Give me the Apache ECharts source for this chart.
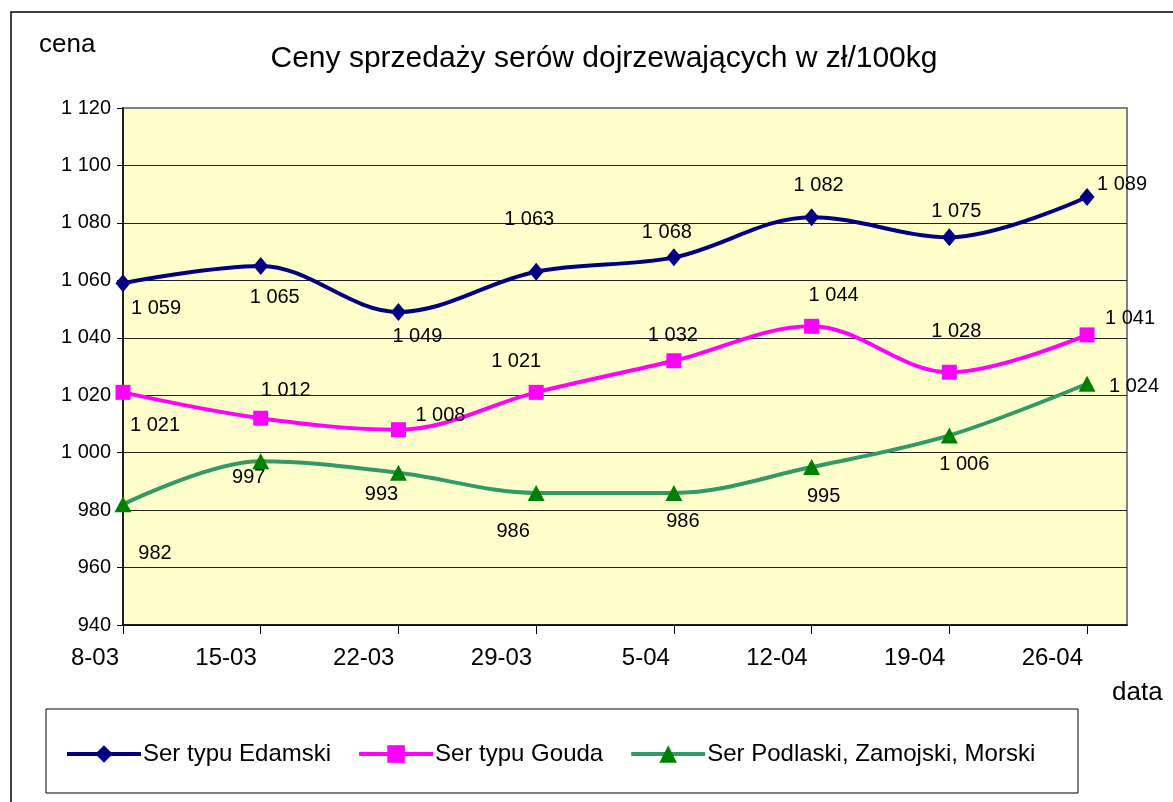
<!DOCTYPE html>
<html>
<head>
<meta charset="utf-8">
<title>Ceny sprzedaży serów dojrzewających</title>
<script src="https://cdn.jsdelivr.net/npm/echarts@6/dist/echarts.min.js"></script>
<style>
  html, body { margin: 0; padding: 0; background: #fff; }
  #chart { width: 1173px; height: 802px; }
</style>
</head>
<body>
<div id="chart"></div>
<script>
const dates = ['8-03', '15-03', '22-03', '29-03', '5-04', '12-04', '19-04', '26-04'];
const edamski = [1059, 1065, 1049, 1063, 1068, 1082, 1075, 1089];
const gouda = [1021, 1012, 1008, 1021, 1032, 1044, 1028, 1041];
const podlaski = [982, 997, 993, 986, 986, 995, 1006, 1024];
const yTicks = { min: 940, max: 1120, step: 20 };

// przesuniДҷcia etykiet danych wzglДҷdem punktu (jak w Excelu)
const edamskiLabelOffsets = [[33, 25], [14, 32], [19, 25], [-7, -52], [-7, -25], [7, -32], [7, -26], [35, -13]];
const goudaLabelOffsets = [[32, 33], [25, -28], [42, -14], [-20, -31], [-1, -25], [22, -31], [7, -41], [43, -16]];
const podlaskiLabelOffsets = [[32, 49], [-12, 16], [-17, 22], [-23, 39], [9, 29], [12, 29], [15, 29], [47, 3]];

const FONT = '"Liberation Sans", Arial, sans-serif';

function fmt(v) {
    return String(v).replace(/\B(?=(\d{3})+(?!\d))/g, ' ');
}

function buildData(values, offsets) {
    return values.map((v, i) => ({
        value: [i, v],
        label: { offset: offsets[i] }
    }));
}

function lineSeries(name, values, offsets, lineColor, markColor, symbol, symbolSize) {
    return {
        name: name,
        type: 'line',
        smooth: 0.35,
        symbol: symbol,
        symbolSize: symbolSize,
        data: buildData(values, offsets),
        lineStyle: { color: lineColor, width: 4 },
        itemStyle: { color: markColor, borderWidth: 0 },
        label: {
            show: true,
            position: 'inside',
            align: 'center',
            verticalAlign: 'middle',
            color: '#000',
            fontFamily: FONT,
            fontSize: 20,
            formatter: p => fmt(p.value[1])
        },
        emphasis: { disabled: true }
    };
}

const chart = echarts.init(document.getElementById('chart'));

const option = {
    animation: false,
    backgroundColor: '#fff',
    title: [
        {
            text: 'Ceny sprzedaży serów dojrzewających w zł/100kg',
            left: 599,
            top: 39,
            textAlign: 'center',
            textStyle: { fontFamily: FONT, fontSize: 30, fontWeight: 'normal', color: '#000' }
        },
        {
            text: 'cena',
            left: 34,
            top: 27,
            textStyle: { fontFamily: FONT, fontSize: 26, fontWeight: 'normal', color: '#000' }
        },
        {
            text: 'data',
            left: 1107,
            top: 675,
            textStyle: { fontFamily: FONT, fontSize: 26, fontWeight: 'normal', color: '#000' }
        }
    ],
    graphic: [
        {
            type: 'rect',
            silent: true,
            z: -10,
            shape: { x: 11, y: 12, width: 1300, height: 900 },
            style: { fill: 'none', stroke: '#000', lineWidth: 1.5 }
        },
        {
            type: 'rect',
            silent: true,
            shape: { x: 46, y: 709, width: 1032, height: 84 },
            style: { fill: '#fff', stroke: '#000', lineWidth: 1 }
        }
    ],
    legend: {
        left: 60,
        top: 737,
        itemWidth: 74,
        itemHeight: 22,
        itemGap: 26,
        z: 10,
        lineStyle: { width: 4 },
        textStyle: { fontFamily: FONT, fontSize: 24, color: '#000', padding: [0, 0, 0, -3] },
        data: ['Ser typu Edamski', 'Ser typu Gouda', 'Ser Podlaski, Zamojski, Morski']
    },
    grid: {
        left: 123,
        right: 46,
        top: 108,
        bottom: 177,
        show: true,
        backgroundColor: '#FFFFCC',
        borderColor: '#808080',
        borderWidth: 2
    },
    xAxis: {
        type: 'value',
        min: 0,
        max: 7.29,
        interval: 1,
        splitLine: { show: false },
        axisLine: { show: true, onZero: false, lineStyle: { color: '#000', width: 1.5 } },
        axisTick: {
            show: true,
            length: 9,
            inside: false,
            customValues: dates.map((d, i) => i),
            lineStyle: { color: '#000', width: 1 }
        },
        axisLabel: {
            customValues: dates.map((d, i) => i),
            formatter: v => dates[Math.round(v)] || '',
            align: 'right',
            margin: 21,
            padding: [0, 4, 0, 0],
            fontFamily: FONT,
            fontSize: 24,
            color: '#000'
        }
    },
    yAxis: {
        type: 'value',
        min: yTicks.min,
        max: yTicks.max,
        interval: yTicks.step,
        axisLine: { show: true, lineStyle: { color: '#000', width: 1.5 } },
        axisTick: { show: true, length: 6, lineStyle: { color: '#000' } },
        axisLabel: {
            formatter: v => fmt(v),
            margin: 12,
            fontFamily: FONT,
            fontSize: 20,
            color: '#000'
        },
        splitLine: {
            show: true,
            showMaxLine: false,
            lineStyle: { color: '#222', width: 1 }
        }
    },
    series: [
        lineSeries('Ser typu Edamski', edamski, edamskiLabelOffsets, '#000080', '#000080', 'diamond', [15, 18]),
        lineSeries('Ser typu Gouda', gouda, goudaLabelOffsets, '#FF00FF', '#FF00FF', 'rect', 15),
        lineSeries('Ser Podlaski, Zamojski, Morski', podlaski, podlaskiLabelOffsets, '#339966', '#008000', 'triangle', [17, 16])
    ]
};

chart.setOption(option);
</script>
</body>
</html>
